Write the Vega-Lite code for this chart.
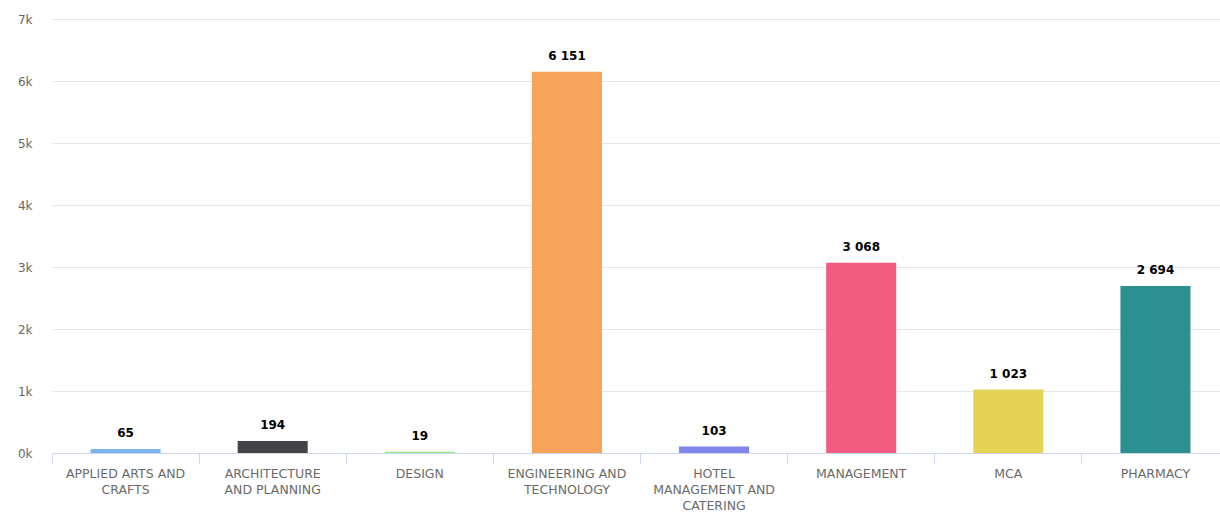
{
  "$schema": "https://vega.github.io/schema/vega-lite/v6.json",
  "autosize": "none",
  "width": 1168,
  "height": 434,
  "padding": {"left": 52, "top": 19, "right": 0, "bottom": 62},
  "background": "#ffffff",
  "config": {
    "view": {"stroke": null},
    "locale": {"number": {"decimal": ".", "thousands": " ", "grouping": [3], "currency": ["", ""]}},
    "font": "DejaVu Sans"
  },
  "data": {
    "values": [
      {"course": "APPLIED ARTS AND CRAFTS", "count": 65},
      {"course": "ARCHITECTURE AND PLANNING", "count": 194},
      {"course": "DESIGN", "count": 19},
      {"course": "ENGINEERING AND TECHNOLOGY", "count": 6151},
      {"course": "HOTEL MANAGEMENT AND CATERING", "count": 103},
      {"course": "MANAGEMENT", "count": 3068},
      {"course": "MCA", "count": 1023},
      {"course": "PHARMACY", "count": 2694}
    ]
  },
  "encoding": {
    "x": {
      "field": "course",
      "type": "nominal",
      "sort": null,
      "title": null,
      "scale": {"range": [0, 1177], "paddingInner": 0, "paddingOuter": 0},
      "axis": {
        "bandPosition": 0,
        "labelAngle": 0,
        "labelColor": "#6a6a6a",
        "labelFontSize": 12.5,
        "labelFont": "DejaVu Sans",
        "labelLineHeight": 16,
        "labelPadding": 4,
        "labelBaseline": "top",
        "labelLimit": 200,
        "domainColor": "#ccd6eb",
        "tickColor": "#ccd6eb",
        "tickSize": 10,
        "grid": false,
        "labelExpr": "datum.value == 'APPLIED ARTS AND CRAFTS' ? ['APPLIED ARTS AND', 'CRAFTS'] : datum.value == 'ARCHITECTURE AND PLANNING' ? ['ARCHITECTURE', 'AND PLANNING'] : datum.value == 'ENGINEERING AND TECHNOLOGY' ? ['ENGINEERING AND', 'TECHNOLOGY'] : datum.value == 'HOTEL MANAGEMENT AND CATERING' ? ['HOTEL', 'MANAGEMENT AND', 'CATERING'] : datum.value"
      }
    },
    "y": {
      "field": "count",
      "type": "quantitative",
      "title": null,
      "scale": {"domain": [0, 7000]},
      "axis": {
        "values": [0, 1000, 2000, 3000, 4000, 5000, 6000, 7000],
        "labelExpr": "(datum.value / 1000) + 'k'",
        "labelColor": "#666666",
        "labelFontSize": 12,
        "labelPadding": 20,
        "domain": false,
        "ticks": false,
        "gridColor": "#e6e6e6",
        "gridWidth": 1
      }
    }
  },
  "layer": [
    {
      "mark": {"type": "bar", "width": {"band": 0.476}},
      "encoding": {
        "color": {
          "field": "course",
          "type": "nominal",
          "legend": null,
          "scale": {
            "domain": ["APPLIED ARTS AND CRAFTS", "ARCHITECTURE AND PLANNING", "DESIGN", "ENGINEERING AND TECHNOLOGY", "HOTEL MANAGEMENT AND CATERING", "MANAGEMENT", "MCA", "PHARMACY"],
            "range": ["#7cb5ec", "#434348", "#90ed7d", "#f7a35c", "#8085e9", "#f15c80", "#e4d354", "#2b908f"]
          }
        }
      }
    },
    {
      "mark": {"type": "text", "baseline": "bottom", "dy": -9, "fontWeight": "bold", "fontSize": 12, "letterSpacing": 0.8, "color": "#000000", "font": "DejaVu Sans"},
      "encoding": {
        "text": {"field": "count", "type": "quantitative", "format": ",d"}
      }
    }
  ]
}
